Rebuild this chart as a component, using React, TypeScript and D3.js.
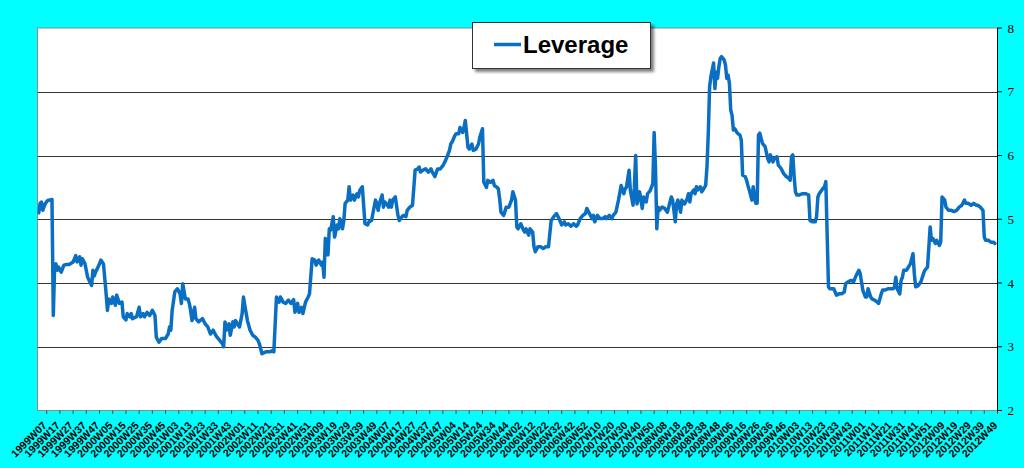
import React from "react";
import * as d3 from "d3";

// week index counted from 1999W01 = 0
const weeks: number[] = [
  0,1,2,3,5,7,8,10,11,12,13,14,15,17,19,21,23,26,28,29,31,32,33,35,37,40,41,42,43,46,47,49,
  51,52,53,55,56,58,59,61,63,64,66,67,69,70,71,74,75,76,77,79,80,82,84,86,88,89,91,93,96,98,99,
  100,101,103,105,107,108,109,111,113,114,115,116,118,119,121,124,126,128,130,132,134,135,137,139,
  140,141,142,144,145,147,148,149,151,152,154,155,156,158,160,162,164,166,167,169,172,175,177,178,
  180,182,183,185,187,189,191,193,194,196,197,199,200,202,204,205,207,209,210,212,214,215,216,217,
  219,220,221,223,224,226,227,228,230,231,232,234,235,236,238,239,241,242,
  243,245,247,249,250,252,253,255,256,257,258,260,261,262,263,265,266,267,268,270,272,273,275,276,
  278,279,281,283,285,287,288,289,291,293,295,297,298,300,302,304,306,308,309,311,312,313,315,316,
  318,319,321,322,323,325,326,328,329,331,333,334,336,337,339,340,342,344,345,347,348,349,350,352,
  354,356,358,359,361,362,363,365,367,368,369,371,372,374,375,376,378,380,382,384,386,388,390,392,
  394,396,398,399,401,403,405,407,408,410,412,414,415,417,419,420,421,423,425,427,429,430,432,434,
  435,437,439,441,443,444,445,447,448,450,451,452,453,455,457,458,460,461,463,465,466,467,468,469,
  470,472,474,476,477,479,480,482,483,484,486,487,489,491,492,
  493,494,496,497,498,499,501,502,503,505,506,507,508,509,511,512,513,514,515,516,517,519,520,521,
  522,523,524,525,526,527,529,531,532,533,535,536,537,538,540,541,542,543,544,545,546,548,550,552,
  553,554,556,557,559,560,562,564,566,568,569,570,571,572,573,574,576,578,581,583,584,586,588,589,
  590,591,593,595,596,598,599,602,603,604,606,608,610,611,613,615,617,619,621,622,624,626,627,628,
  630,631,633,635,636,638,639,641,643,645,647,648,649,650,652,653,654,655,657,658,660,662,663,664,
  666,668,670,671,673,674,675,676,677,679,680,682,683,684,686,687,689,691,693,695,697,699,701,702,
  704,706,708,710,711,713,715,716,717,719,721,723,724
];

const leverage: number[] = [
  5.10,5.25,5.27,5.14,5.25,5.30,5.30,5.31,3.49,4.25,4.30,4.20,4.25,4.17,4.28,4.29,4.29,4.33,4.43,4.33,4.41,4.28,4.38,4.30,4.09,3.96,4.20,4.11,4.17,4.30,4.36,4.30,
  3.83,3.57,3.75,3.68,3.78,3.65,3.81,3.68,3.70,3.47,3.42,3.52,3.47,3.52,3.44,3.47,3.54,3.62,3.47,3.52,3.47,3.54,3.49,3.57,3.49,3.15,3.07,3.13,3.13,3.20,3.31,
  3.26,3.57,3.86,3.91,3.83,3.68,3.99,3.75,3.75,3.68,3.57,3.41,3.62,3.44,3.39,3.44,3.36,3.31,3.20,3.26,3.18,3.15,3.10,3.05,
  3.00,3.39,3.26,3.36,3.18,3.39,3.31,3.41,3.34,3.31,3.52,3.78,3.65,3.41,3.26,3.18,3.15,3.10,3.05,2.89,2.92,2.92,2.94,2.92,
  3.78,3.70,3.78,3.70,3.68,3.73,3.68,3.74,3.54,3.68,3.54,3.62,3.52,3.70,3.78,3.83,4.38,4.36,4.28,4.36,4.28,4.33,4.09,4.70,
  4.44,4.85,4.83,5.04,4.72,4.91,4.85,5.01,4.85,4.98,5.25,5.30,5.51,5.30,5.38,5.30,5.40,5.35,
  5.45,5.51,4.93,4.91,4.96,4.98,5.09,5.30,5.25,5.14,5.25,5.38,5.19,5.27,5.25,5.19,5.30,5.19,5.30,5.35,5.06,4.98,5.04,5.06,
  5.04,5.14,5.19,5.22,5.77,5.79,5.82,5.74,5.77,5.79,5.74,5.79,5.74,5.67,5.79,5.79,5.84,5.92,5.97,6.08,6.18,6.21,6.31,6.34,
  6.34,6.44,6.36,6.44,6.55,6.13,6.10,6.18,6.08,6.10,6.18,6.29,6.42,5.58,5.50,5.61,5.58,5.61,5.53,5.50,5.48,5.32,5.11,5.06,
  5.19,5.19,5.30,5.43,5.30,4.88,4.85,4.93,4.83,4.80,4.85,4.75,4.85,4.80,4.57,4.49,4.57,4.57,4.54,4.57,4.57,4.98,5.04,5.09,
  5.01,4.91,4.96,4.91,4.93,4.89,4.93,4.89,4.91,5.01,5.06,5.09,5.17,5.09,5.01,5.06,4.96,5.06,5.01,5.01,5.04,5.01,5.06,5.01,
  5.06,5.11,5.30,5.53,5.40,5.48,5.50,5.77,5.45,5.22,5.50,6.00,5.24,5.43,5.17,5.35,5.27,5.40,5.45,5.56,6.36,5.82,4.85,5.19,
  5.14,5.19,5.17,5.11,5.19,5.35,5.30,4.96,5.24,5.30,5.11,5.30,5.24,5.32,5.40,
  5.27,5.40,5.46,5.40,5.51,5.46,5.51,5.43,5.46,5.53,5.82,6.35,7.08,7.24,7.45,7.05,7.31,7.21,7.39,7.52,7.55,7.50,7.42,7.21,
  7.26,7.13,6.71,6.63,6.40,6.42,6.35,6.32,6.24,5.69,5.67,5.61,5.53,5.46,5.30,5.51,5.35,5.25,5.25,6.32,6.35,6.19,6.14,5.95,
  5.90,6.01,5.90,5.95,5.98,5.85,5.80,5.72,5.67,5.64,5.61,5.98,6.01,5.67,5.43,5.38,5.38,5.40,5.40,5.38,4.98,4.96,4.96,5.04,
  5.35,5.40,5.46,5.51,5.59,3.94,3.91,3.91,3.86,3.81,3.83,3.83,3.86,3.99,4.02,4.04,4.02,4.12,4.20,4.15,3.89,3.78,3.78,3.91,
  3.78,3.75,3.73,3.70,3.68,3.83,3.89,3.89,3.91,3.91,3.91,3.94,4.09,3.91,3.83,4.04,4.09,4.20,4.20,4.23,4.30,4.46,4.15,3.94,
  3.96,4.02,4.15,4.20,4.25,4.56,4.88,4.67,4.70,4.62,4.67,4.59,4.64,5.35,5.30,5.19,5.14,5.14,5.12,5.14,5.19,5.22,5.30,5.25,
  5.25,5.22,5.25,5.22,5.22,5.19,5.14,4.72,4.67,4.67,4.64,4.64,4.62
];

const weekLabels: string[] = [
  "1999W07","1999W17","1999W27","1999W37","1999W47",
  "2000W05","2000W15","2000W25","2000W35","2000W45",
  "2001W03","2001W13","2001W23","2001W33","2001W43",
  "2002W01","2002W11","2002W21","2002W31","2002W41","2002W51",
  "2003W09","2003W19","2003W29","2003W39","2003W49",
  "2004W07","2004W17","2004W27","2004W37","2004W47",
  "2005W04","2005W14","2005W24","2005W34","2005W44",
  "2006W02","2006W12","2006W22","2006W32","2006W42","2006W52",
  "2007W10","2007W20","2007W30","2007W40","2007W50",
  "2008W08","2008W18","2008W28","2008W38","2008W48",
  "2009W06","2009W16","2009W26","2009W36","2009W46",
  "2010W03","2010W13","2010W23","2010W33","2010W43",
  "2011W01","2011W11","2011W21","2011W31","2011W41","2011W51",
  "2012W09","2012W19","2012W29","2012W39","2012W49"
];
const firstLabelWeek = 6;
const labelStep = 10;

const yTicks: number[] = [2, 3, 4, 5, 6, 7, 8];
const seriesName = "Leverage";

export default function App() {
  const W = 1024, H = 468;
  const left = 37.5, right = 997.5, top = 28, bottom = 410.5;
  const x = d3.scaleLinear().domain([6, 726]).range([46.7, 997.5]);
  const y = d3.scaleLinear().domain([2, 8]).range([bottom, top]);
  const pts: [number, number][] = weeks.map((w, i) => [w, leverage[i]]);
  const line = d3.line<[number, number]>().x(d => x(d[0])).y(d => y(d[1]));
  const lineColor = "#0A6FC2";

  return (
    <svg width={W} height={H} style={{ position: "absolute", left: 0, top: 0 }}>
      <defs>
        <filter id="shadow" x="-10%" y="-20%" width="130%" height="160%">
          <feGaussianBlur in="SourceAlpha" stdDeviation="1.5" />
          <feOffset dx="3" dy="3" result="ob" />
          <feComponentTransfer><feFuncA type="linear" slope="0.5" /></feComponentTransfer>
          <feMerge><feMergeNode /><feMergeNode in="SourceGraphic" /></feMerge>
        </filter>
        <clipPath id="plotclip"><rect x={left} y={top - 10} width={right - left} height={bottom - top + 20} /></clipPath>
      </defs>
      <rect x={0} y={0} width={W} height={H} fill="#00FFFF" />
      <rect x={left} y={top} width={right - left} height={bottom - top} fill="#fff" stroke="#8c8c8c" strokeWidth={1} />
      {yTicks.filter(t => t > 2 && t < 8).map(t => (
        <line key={t} x1={left} x2={right} y1={Math.round(y(t)) + 0.5} y2={Math.round(y(t)) + 0.5} stroke="#333" strokeWidth={1} />
      ))}
      {/* bottom axis */}
      <line x1={left} x2={right} y1={bottom} y2={bottom} stroke="#8c8c8c" strokeWidth={1.2} />
      {weekLabels.map((lab, i) => {
        const xx = x(firstLabelWeek + i * labelStep);
        return (
          <g key={lab}>
            <line x1={xx} x2={xx} y1={bottom} y2={bottom + 3.5} stroke="#444" strokeWidth={1} />
            <text
              transform={`translate(${xx - 2},${bottom + 13}) rotate(-45)`}
              textAnchor="end"
              dy="0.35em"
              fontFamily="'Liberation Sans', Arial, sans-serif"
              fontWeight="bold"
              fontSize={10.5}
              fill="#000"
            >{lab}</text>
          </g>
        );
      })}
      {/* right axis */}
      <line x1={right} x2={right} y1={top} y2={bottom} stroke="#000" strokeWidth={1} />
      {yTicks.map(t => (
        <g key={t}>
          <line x1={right} x2={right + 4.5} y1={y(t)} y2={y(t)} stroke="#000" strokeWidth={1} />
          <text x={right + 10} y={y(t)} dy="0.36em" fontFamily="'Liberation Serif', 'Times New Roman', serif" fontSize={13} fill="#000">{t}</text>
        </g>
      ))}
      <path d={line(pts) || ""} fill="none" stroke={lineColor} strokeWidth={3.5} strokeLinejoin="round" strokeLinecap="round" clipPath="url(#plotclip)" />
      {/* legend */}
      <g filter="url(#shadow)">
        <rect x={472.5} y={22.5} width={178} height={46} fill="#fff" stroke="#333" strokeWidth={1} />
      </g>
      <line x1={494} x2={521} y1={44.5} y2={44.5} stroke={lineColor} strokeWidth={3.5} />
      <text x={523} y={53} fontFamily="'Liberation Sans', Arial, sans-serif" fontWeight="bold" fontSize={24} fill="#000">{seriesName}</text>
    </svg>
  );
}
